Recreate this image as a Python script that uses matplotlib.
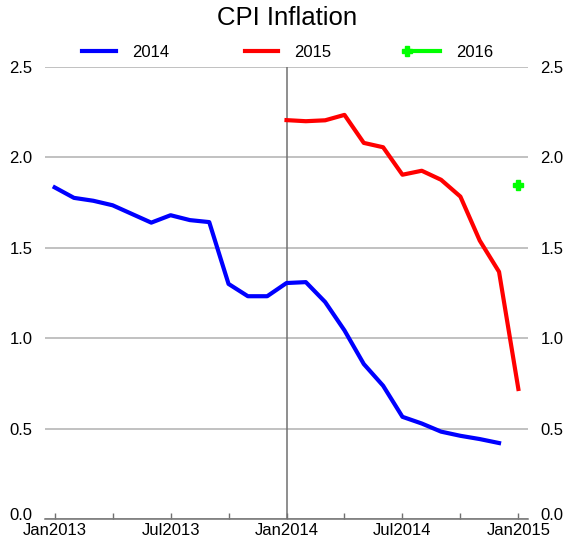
import matplotlib.pyplot as plt
from matplotlib.ticker import FixedLocator, NullFormatter
from matplotlib.legend_handler import HandlerLine2D
from matplotlib.transforms import ScaledTranslation

plt.rcParams['font.family'] = ['Liberation Sans', 'DejaVu Sans']

# month index 0 = Jan2013 ... 24 = Jan2015
tick_pos = [0, 6, 12, 18, 24]
tick_labels = ["Jan2013", "Jul2013", "Jan2014", "Jul2014", "Jan2015"]

# 2014 forecast vintage: Jan2013 - Dec2014
x_2014 = list(range(0, 24))
cpi_2014 = [1.834, 1.776, 1.760, 1.735, 1.687, 1.639, 1.680, 1.653, 1.642,
            1.300, 1.232, 1.232, 1.305, 1.310, 1.200, 1.043, 0.857, 0.737,
            0.565, 0.528, 0.483, 0.460, 0.442, 0.420]

# 2015 vintage: Jan2014 - Jan2015
x_2015 = list(range(12, 25))
cpi_2015 = [2.206, 2.200, 2.205, 2.235, 2.080, 2.056, 1.904, 1.926, 1.876,
            1.783, 1.540, 1.367, 0.719]

# 2016: single point at Jan2015
x_2016 = [24]
cpi_2016 = [1.848]


class LeftMarker(HandlerLine2D):
    # legend marker only at the left end of the line
    def create_artists(self, *args, **kwargs):
        arts = super().create_artists(*args, **kwargs)
        for a in arts:
            if a.get_marker() not in (None, "None", ""):
                a.set_markevery([0])
        return arts


fig = plt.figure(figsize=(5.66, 5.44), dpi=100)
ax = fig.add_axes([0.0795, 0.046, 0.8534, 0.8309])

ax.plot(x_2014, cpi_2014, color="#0000ff", lw=3.0, label="2014")
ax.plot(x_2015, cpi_2015, color="#ff0000", lw=3.0, label="2015")
green, = ax.plot(x_2016, cpi_2016, color="#00ff00", lw=3.0, marker="P", ms=6.5,
                 label="2016")

ax.axvline(12, color="#707070", lw=1.1, zorder=1)

ax.set_xlim(-0.5, 24.5)
ax.set_ylim(0, 2.5)
ax.set_yticks([0, 0.5, 1.0, 1.5, 2.0, 2.5])
ax.set_yticklabels(["0.0", "0.5", "1.0", "1.5", "2.0", "2.5"])
ax.yaxis.grid(True, color="#b0b0b0", lw=1.1)
ax.set_axisbelow(True)

ax.xaxis.set_major_locator(FixedLocator(tick_pos))
ax.set_xticklabels(tick_labels)
ax.xaxis.set_minor_locator(FixedLocator([3, 9, 15, 21]))
ax.xaxis.set_minor_formatter(NullFormatter())
ax.tick_params(axis="x", which="both", direction="in", length=4, width=1,
               color="#707070", labelsize=12, pad=3)
ax.tick_params(axis="y", length=0, labelsize=12, pad=9, labelright=True)

# the 0.0 labels sit a little above the baseline so they clear the dates
up = ScaledTranslation(0, 5 / 100, fig.dpi_scale_trans)
t0 = ax.yaxis.get_major_ticks()[0]
t0.label1.set_transform(t0.label1.get_transform() + up)
t0.label2.set_transform(t0.label2.get_transform() + up)

for s in ["left", "right", "top"]:
    ax.spines[s].set_visible(False)
ax.spines["bottom"].set_color("#707070")
ax.spines["bottom"].set_linewidth(1.1)

fig.text(0.507, 0.966, "CPI Inflation", ha="center", va="center", fontsize=18.5)

fig.legend(loc="center", bbox_to_anchor=(0.504, 0.903), ncol=3, frameon=False,
           fontsize=12, handlelength=2.6, handletextpad=0.65, columnspacing=4.25,
           numpoints=2, handler_map={green: LeftMarker()})

fig.savefig("out.png", dpi=100)
